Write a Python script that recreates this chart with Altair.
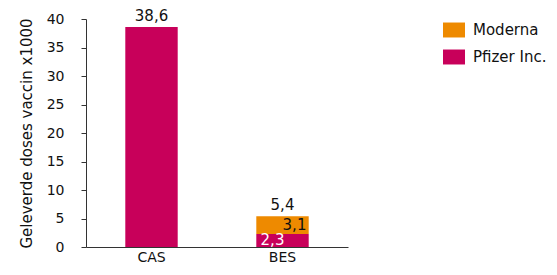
import altair as alt
import pandas as pd

categories = ["CAS", "BES", "BES"]
vaccines = ["Pfizer Inc.", "Pfizer Inc.", "Moderna"]
values = [38.6, 2.3, 3.1]
value_labels = ["", "2,3", "3,1"]

total_categories = ["CAS", "BES"]
totals = [38.6, 5.4]
total_labels = ["38,6", "5,4"]

df = pd.DataFrame({"cat": categories, "vaccin": vaccines, "value": values,
                   "label": value_labels,
                   "order": [0 if v == "Pfizer Inc." else 1 for v in vaccines]})
tot = pd.DataFrame({"cat": total_categories, "total": totals, "label": total_labels})

FONT = "DejaVu Sans"
FS = 15
SORT = ["CAS", "BES"]
color_scale = alt.Scale(domain=["Moderna", "Pfizer Inc."], range=["#EE8A00", "#C8005A"])
x_enc = alt.X("cat:N", sort=SORT, title=None,
              scale=alt.Scale(paddingInner=0.6, paddingOuter=0.3),
              axis=alt.Axis(labelAngle=0, ticks=False, labelFontSize=14, labelColor="#111",
                            labelPadding=3, domainColor="#333", labelFont=FONT))
y_scale = alt.Scale(domain=[0, 40], nice=False)

bars = alt.Chart(df).mark_bar().encode(
    x=x_enc,
    y=alt.Y("value:Q", stack="zero", scale=y_scale,
            title="Geleverde doses vaccin x1000",
            axis=alt.Axis(values=[0, 5, 10, 15, 20, 25, 30, 35, 40], tickCount=9,
                          labelOverlap=False, grid=False,
                          tickSize=5, tickColor="#333", domainColor="#333",
                          labelFontSize=14, labelColor="#111", labelFont=FONT,
                          titleFont=FONT, titleFontSize=15, titleFontWeight="normal",
                          titleColor="#111", titlePadding=12, labelPadding=17)),
    color=alt.Color("vaccin:N", scale=color_scale,
                    legend=alt.Legend(title=None, orient="none", legendX=357, legendY=0,
                                      symbolType="M-1,-0.68L1,-0.68L1,0.68L-1,0.68Z",
                                      symbolSize=484, symbolOpacity=1, symbolStrokeWidth=0,
                                      labelFontSize=FS, labelFont=FONT, labelColor="#111",
                                      rowPadding=8, labelOffset=8)),
    order=alt.Order("order:Q"),
)

def seg_layer(name, dx, colour):
    return alt.Chart(df).transform_stack(
        stack="value", groupby=["cat"], as_=["v0", "v1"], sort=[alt.SortField("order")]
    ).transform_filter(
        (alt.datum.vaccin == name) & (alt.datum.label != "")
    ).transform_calculate(mid="(datum.v0 + datum.v1) / 2").mark_text(
        fontSize=FS, font=FONT, dx=dx, color=colour).encode(
        x=alt.X("cat:N", sort=SORT),
        y=alt.Y("mid:Q", scale=y_scale),
        text="label:N",
    )

pfizer_text = seg_layer("Pfizer Inc.", -10, "white")
moderna_text = seg_layer("Moderna", 12, "#111")

total_text = alt.Chart(tot).mark_text(fontSize=FS, font=FONT, dy=-11, color="#111").encode(
    x=alt.X("cat:N", sort=SORT),
    y=alt.Y("total:Q", scale=y_scale),
    text="label:N",
)

chart = alt.layer(bars, pfizer_text, moderna_text, total_text).properties(
    width=262, height=228,
    autosize=alt.AutoSizeParams(type="none"),
    padding={"left": 78, "top": 11, "right": 201, "bottom": 20},
).configure_view(stroke=None)

chart.save("out.html", embed_options={"renderer": "svg", "actions": False})
